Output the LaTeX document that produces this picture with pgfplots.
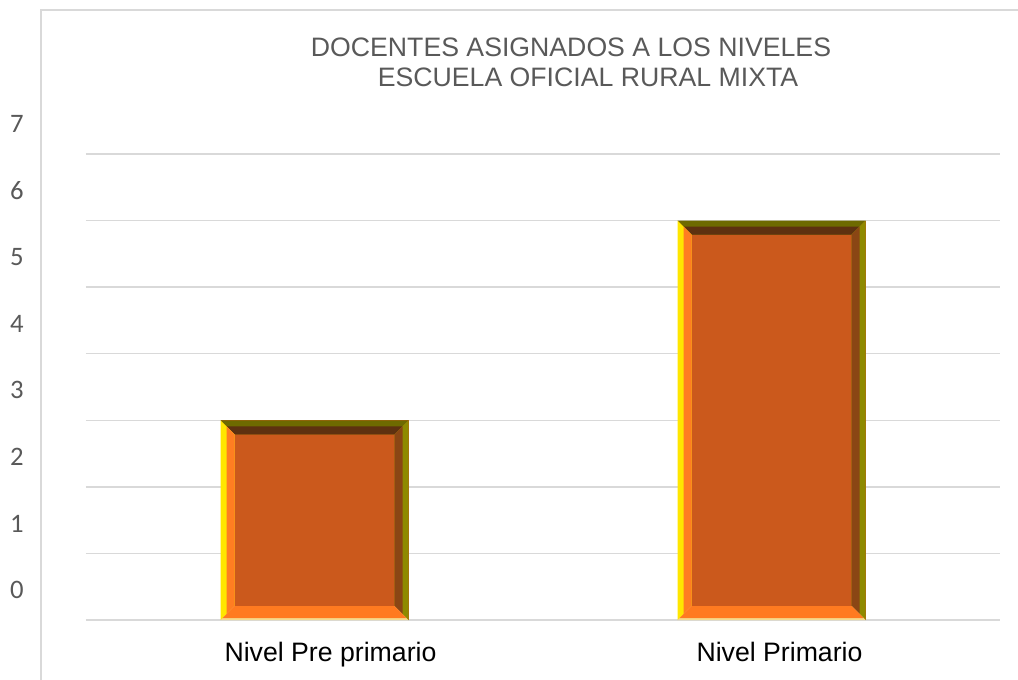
\documentclass[border=0pt]{standalone}
\usepackage{pgfplots}
\pgfplotsset{compat=1.18}
\usepackage{fontspec}
\setmainfont{Liberation Sans}
\newfontfamily\carlito{Carlito}

\definecolor{face}{HTML}{CB591C}
\definecolor{topout}{HTML}{6E6A00}
\definecolor{topin}{HTML}{5E3110}
\definecolor{leftout}{HTML}{FFE600}
\definecolor{leftin}{HTML}{FF7D22}
\definecolor{rightout}{HTML}{8E8A00}
\definecolor{rightin}{HTML}{8A4614}
\definecolor{botout}{HTML}{F5D98C}
\definecolor{botin}{HTML}{FF7A20}
\definecolor{gridc}{HTML}{D9D9D9}
\definecolor{textc}{HTML}{595959}

% bevel widths
\def\bw{10.5pt}
\def\bo{4.5pt}
\def\bb{1.5pt}
\newif\ifinbevel
\newcommand{\bevel}{%
  \ifinbevel\else
  \inbeveltrue
  \coordinate (A) at (path picture bounding box.north west);
  \coordinate (B) at (path picture bounding box.north east);
  \coordinate (C) at (path picture bounding box.south east);
  \coordinate (D) at (path picture bounding box.south west);
  % top
  \fill[topout] (A) -- (B) -- ([xshift=-\bw,yshift=-\bw]B) -- ([xshift=\bw,yshift=-\bw]A) -- cycle;
  \fill[topin] ([xshift=\bo,yshift=-\bo]A) -- ([xshift=-\bo,yshift=-\bo]B) -- ([xshift=-\bw,yshift=-\bw]B) -- ([xshift=\bw,yshift=-\bw]A) -- cycle;
  % left
  \fill[leftout] (A) -- ([xshift=\bw,yshift=-\bw]A) -- ([xshift=\bw,yshift=\bw]D) -- (D) -- cycle;
  \fill[leftin] ([xshift=\bo,yshift=-\bo]A) -- ([xshift=\bw,yshift=-\bw]A) -- ([xshift=\bw,yshift=\bw]D) -- ([xshift=\bo,yshift=\bo]D) -- cycle;
  % right
  \fill[rightout] (B) -- ([xshift=-\bw,yshift=-\bw]B) -- ([xshift=-\bw,yshift=\bw]C) -- (C) -- cycle;
  \fill[rightin] ([xshift=-\bo,yshift=-\bo]B) -- ([xshift=-\bw,yshift=-\bw]B) -- ([xshift=-\bw,yshift=\bw]C) -- ([xshift=-\bo,yshift=\bo]C) -- cycle;
  % bottom
  \fill[botout] (D) -- (C) -- ([xshift=-\bw,yshift=\bw]C) -- ([xshift=\bw,yshift=\bw]D) -- cycle;
  \fill[botin] ([xshift=\bb,yshift=\bb]D) -- ([xshift=-\bb,yshift=\bb]C) -- ([xshift=-\bw,yshift=\bw]C) -- ([xshift=\bw,yshift=\bw]D) -- cycle;
  \fi
}

\begin{document}
\begin{tikzpicture}
  \path[use as bounding box] (-64.5pt,-44.25pt) rectangle (699pt,465pt);
  \begin{axis}[
    at={(0,0)}, anchor=south west,
    scale only axis,
    width=685.5pt, height=349.5pt,
    xmin=-0.5, xmax=1.5,
    ymin=0, ymax=7,
    xtick={0,1},
    xticklabels={\hspace*{24pt}Nivel Pre primario, \hspace*{12pt}Nivel Primario},
    ytick={0,...,7},
    ymajorgrids,
    grid style={draw=gridc, line width=1.1pt},
    axis line style={draw=none},
    major tick length=0pt,
    /pgf/number format/assume math mode=true,
    xticklabel style={anchor=base, yshift=-30.75pt, text=black,
      font=\fontsize{20}{24}\selectfont},
    yticklabel style={anchor=base, xshift=-51.75pt, yshift=16pt, text=textc,
      font=\carlito\fontsize{20}{24}\selectfont},
    clip=false,
    ]
    \addplot[ybar, bar width=141pt, bar shift=0pt, fill=face, draw=none,
      path picture={\bevel}] coordinates {(0,3)};
    \addplot[ybar, bar width=141pt, bar shift=0pt, fill=face, draw=none,
      path picture={\bevel}] coordinates {(1,6)};
  \end{axis}
  % chart area frame (cropped)
  \draw[gridc, line width=1.1pt] (-33.75pt,-50pt) -- (-33.75pt,457.5pt) -- (720pt,457.5pt);
  \node[anchor=base, text=textc, font=\fontsize{20}{24}\selectfont, inner sep=0pt]
    at (363.75pt,422.25pt) {DOCENTES ASIGNADOS A LOS NIVELES};
  \node[anchor=base, text=textc, font=\fontsize{20}{24}\selectfont, inner sep=0pt]
    at (376.5pt,399.75pt) {ESCUELA OFICIAL RURAL MIXTA};
\end{tikzpicture}
\end{document}
